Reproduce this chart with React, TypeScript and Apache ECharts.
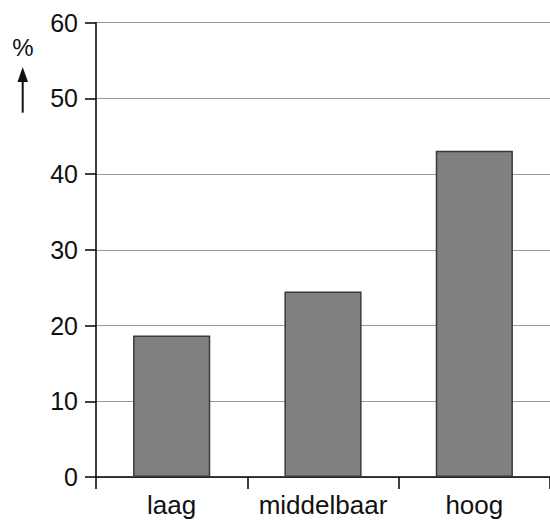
import React, { useEffect, useRef } from "react";
import * as echarts from "echarts";

const categories = ["laag", "middelbaar", "hoog"];
const values = [18.7, 24.5, 43.1];
const yMin = 0;
const yMax = 60;
const yInterval = 10;
const unitLabel = "%";

export default function App() {
  const ref = useRef<HTMLDivElement>(null);
  useEffect(() => {
    if (!ref.current) return;
    const chart = echarts.init(ref.current, null, { renderer: "svg" });
    const font = "'Liberation Sans', Arial, sans-serif";
    chart.setOption({
      animation: false,
      backgroundColor: "#ffffff",
      grid: { left: 96, right: 0, top: 22.7, bottom: 44, containLabel: false },
      xAxis: {
        type: "category",
        data: categories,
        boundaryGap: true,
        axisLine: { show: true, lineStyle: { color: "#000", width: 1.5 } },
        axisTick: { show: true, inside: false, interval: 0, length: 12, lineStyle: { color: "#000", width: 1.5 } },
        axisLabel: { color: "#111", fontSize: 26, fontFamily: font, margin: 15, interval: 0, hideOverlap: false },
        splitLine: { show: false },
      },
      yAxis: {
        type: "value",
        min: yMin,
        max: yMax,
        interval: yInterval,
        axisLine: { show: true, lineStyle: { color: "#000", width: 1.5 } },
        axisTick: { show: true, inside: false, length: 11, lineStyle: { color: "#000", width: 1.5 } },
        axisLabel: { color: "#111", fontSize: 25, fontFamily: font, margin: 18 },
        splitLine: { show: true, lineStyle: { color: "#9a9a9a", width: 1.2 } },
      },
      series: [
        {
          type: "bar",
          data: values,
          barWidth: "51%",
          itemStyle: { color: "#808080", borderColor: "#3a3a3a", borderWidth: 1.5 },
        },
      ],
      graphic: [
        {
          type: "text",
          x: 22.8,
          y: 47.5,
          style: {
            text: unitLabel,
            fontSize: 24,
            fontFamily: font,
            fill: "#111",
            textAlign: "center",
            textVerticalAlign: "middle",
          },
        },
        {
          type: "line",
          shape: { x1: 22.7, y1: 112.7, x2: 22.7, y2: 78 },
          style: { stroke: "#111", lineWidth: 2 },
        },
        {
          type: "polygon",
          shape: { points: [[17.5, 82], [22.7, 67], [28, 82]] },
          style: { fill: "#111" },
        },
      ],
    });
    return () => chart.dispose();
  }, []);
  return (
    <div
      ref={ref}
      style={{ position: "absolute", left: 0, top: 0, width: 550, height: 521 }}
    />
  );
}
